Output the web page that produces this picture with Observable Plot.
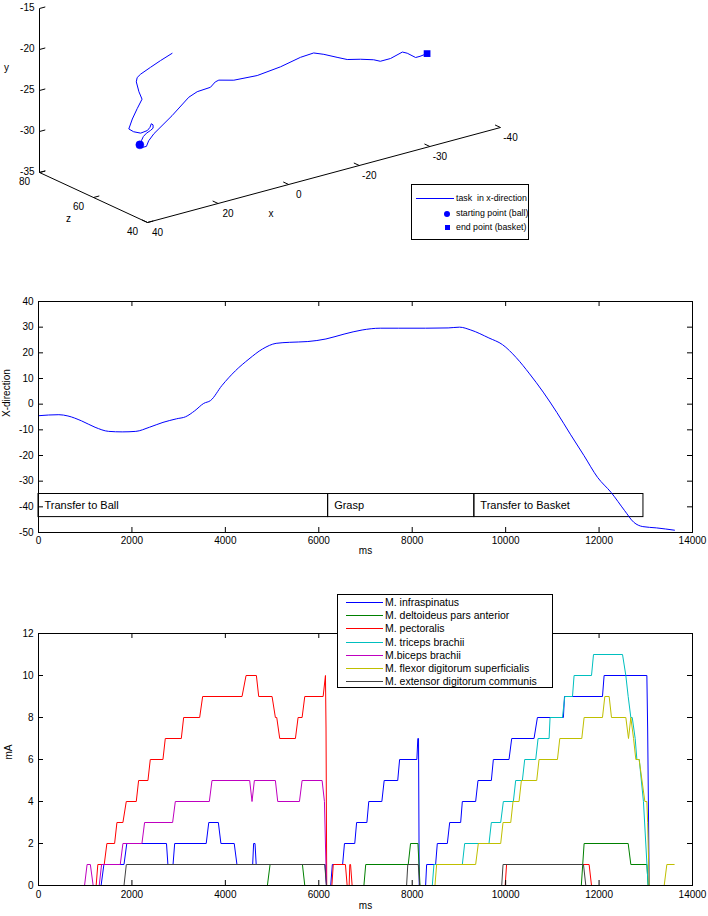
<!DOCTYPE html>
<html>
<head>
<meta charset="utf-8">
<script src="https://cdn.jsdelivr.net/npm/d3@7"></script>
<script src="https://cdn.jsdelivr.net/npm/@observablehq/plot@0.6"></script>
<style>
html,body{margin:0;padding:0;background:#fff;}
#wrap{position:relative;width:708px;height:916px;overflow:hidden;background:#fff;font-family:"Liberation Sans",Arial,sans-serif;color:#000;}
.panel{position:absolute;left:0;}
.legend{position:absolute;background:#fff;border:1px solid #000;box-sizing:border-box;}
.legend .row{position:absolute;left:0;right:0;height:14px;}
.legend .sample{position:absolute;top:7px;height:1px;}
.legend .label{position:absolute;top:0;line-height:14px;white-space:pre;}
.legend .mk{position:absolute;}
</style>
</head>
<body>
<div id="wrap">
  <div id="p1" class="panel" style="top:0"></div>
  <div id="p2" class="panel" style="top:262px"></div>
  <div id="p3" class="panel" style="top:575px"></div>
  <div id="leg1" class="legend" style="left:411px;top:184px;width:118px;height:56px;font-size:8.8px"></div>
  <div id="leg3" class="legend" style="left:337px;top:594px;width:216px;height:94px;font-size:10.5px"></div>
</div>
<script>
// ================= Panel 1: 3-D trajectory =================
const trajX = [22.2,24.8,27.1,29.3,30.1,30.3,29.7,29.0,30.1,31.2,32.0,30.9,29.3,27.8,27.2,26.9,26.5,26.5,27.1,28.0,28.7,29.1,29.3,28.9,28.0,27.5,26.3,22.2,18.4,16.5,13.5,12.4,11.6,8.2,2.9,-2.4,-6.9,-9.9,-12.2,-15.2,-17.5,-20.5,-23.5,-25.0,-27.3,-30.0,-31.1,-33.0,-34.0,-35.6];
const trajY = [-20.0,-20.5,-21.0,-21.5,-21.8,-22.3,-23.6,-24.6,-25.6,-26.7,-27.8,-28.3,-28.7,-28.6,-28.3,-27.9,-28.1,-28.5,-28.7,-28.9,-29.2,-29.6,-30.1,-30.5,-30.5,-29.9,-29.2,-27.6,-25.9,-25.5,-25.4,-24.9,-24.8,-25.3,-25.5,-25.2,-24.7,-24.6,-25.1,-25.9,-26.5,-26.9,-27.4,-27.8,-27.8,-27.4,-27.7,-28.5,-28.5,-28.4];
const trajZ = 60;
const ballXYZ = [29.5, -30.1, 60];
const basketXYZ = [-35.6, -28.4, 60];
const xLimits3d = [40, -40];
const yLimits3d = [-35, -15];
const zLimits3d = [80, 40];
const xTickLabels3d = ["40","20","0","-20","-30","-40"];
const yTicks3d = [-35,-30,-25,-20,-15];
const zTicks3d = [80,60,40];
const legend1Labels = ["task  in x-direction","starting point (ball)","end point (basket)"];

// ================= Panel 2: X-direction over time =================
const timeMs = [0,436,630,920,1211,1502,1792,2083,2374,2665,2955,3149,3343,3537,3682,3924,4215,4506,4796,5087,5378,5765,6153,6541,6928,7316,7703,8285,8769,9012,9254,9641,9932,10223,10513,10804,11095,11385,11676,11967,12258,12548,12742,12936,13227,13614];
const xDirection = [-4.5,-4.1,-4.6,-6.5,-9.0,-10.6,-10.8,-10.6,-9.0,-7.1,-5.7,-4.9,-2.6,0.3,1.4,7.2,13.0,17.6,21.5,23.7,24.1,24.4,25.4,27.3,28.9,29.6,29.6,29.6,29.7,30.0,28.9,25.8,23.2,18.2,11.8,4.7,-3.2,-11.7,-20.0,-28.5,-34.4,-41.5,-46.0,-47.7,-48.2,-49.1];
const phaseNames = ["Transfer to Ball","Grasp","Transfer to Basket"];
const phaseStartMs = [0, 6200, 9330];
const phaseEndMs = [6200, 9330, 12950];
const phaseLow = -44, phaseHigh = -35;
const msTicks = [0,2000,4000,6000,8000,10000,12000,14000];
const xDirTicks = [-50,-40,-30,-20,-10,0,10,20,30,40];

// ================= Panel 3: stimulation currents =================
const muscleNames = ["M. infraspinatus","M. deltoideus pars anterior","M. pectoralis","M. triceps brachii","M.biceps brachii","M. flexor digitorum superficialis","M. extensor digitorum communis"];
const muscleColors = ["#0000ff","#008000","#ff0000","#00bfbf","#bf00bf","#bfbf00","#404040"];
const infraspinatusT = [0,1340,1400,1830,1890,2740,2770,2880,2915,3590,3645,3850,3905,4190,4248,4585,4605,4635,4660,6135,6165,6255,6290,6510,6550,6770,6810,7030,7070,7350,7400,7690,7730,8100,8120,8135,8150,8287,8309,8501,8537,8752,8802,9037,9073,9358,9408,9694,9737,10072,10130,10608,10680,11236,11260,12073,12108,13023,13040,13073,13600];
const infraspinatusV = [0,0,1,1,2,2,1,1,2,2,3,3,2,2,1,1,2,2,1,1,0,0,1,1,2,2,3,3,4,4,5,5,6,6,7,7,0,0,1,1,2,2,3,3,4,4,5,5,6,6,7,7,8,8,9,9,10,10,7.5,0,0];
const deltoideusT = [0,4900,4957,5650,5700,6966,7005,7915,7964,8123,8166,11620,11680,12623,12680,13023,13051,13600];
const deltoideusV = [0,0,1,1,0,0,1,1,2,2,0,0,2,2,1,1,0,0];
const pectoralisT = [0,1234,1270,1407,1464,1629,1679,1807,1879,2093,2143,2343,2393,2664,2714,3057,3107,3450,3514,4357,4443,4664,4714,5000,5071,5100,5164,5500,5557,5643,5700,6093,6143,6155,6170,6280,6310,6570,6607,6650,6664,6680,6714,9990,10020,11787,11838,13600];
const pectoralisV = [0,0,1,1,2,2,3,3,4,4,5,5,6,6,7,7,8,8,9,9,10,10,9,9,8,8,7,7,8,8,9,9,10,7.5,0,0,1,1,0,0,1,1,0,0,1,1,0,0];
const tricepsT = [0,8430,8465,9073,9123,9644,9694,9894,9951,10165,10215,10358,10408,10644,10694,10930,10951,11216,11266,11431,11465,11838,11881,12502,12573,12623,12680,12710,12773,12809,12860,12950,13050,13600];
const tricepsV = [0,0,1,1,2,2,3,3,4,4,5,5,6,6,7,7,8,8,9,9,10,10,11,11,10,9,8,8,7,6,6,4,0,0];
const bicepsT = [0,986,1040,1110,1170,1300,1350,1750,1807,2214,2271,2871,2929,3657,3714,4521,4571,4621,5071,5121,5586,5643,6071,6121,6164,13600];
const bicepsV = [0,0,1,1,0,0,1,1,2,2,3,3,4,4,5,5,4,5,5,4,4,5,5,4,0,0];
const flexorT = [0,8487,8523,9358,9415,9894,9944,10109,10158,10287,10337,10665,10715,11109,11159,11630,11680,12073,12123,12216,12266,12573,12630,12680,12738,12787,12858,12980,13023,13040,13073,13394,13451,13608];
const flexorV = [0,0,1,1,2,2,3,3,4,4,5,5,6,6,7,7,8,8,9,9,8,8,7,8,7,6,6,4,4,3,0,0,1,1];
const extensorT = [0,1830,1880,6128,6163,7880,7905,8130,8160,9916,9944,11666,11716,13600];
const extensorV = [0,0,1,1,0,0,1,1,0,0,1,1,0,0];
const mATicks = [0,2,4,6,8,10,12];

// ================= common =================
const baseStyle = {fontFamily: '"Liberation Sans", Arial, sans-serif', fontSize: "10px", color: "#000", background: "transparent", overflow: "visible"};
const fmt = d => String(d);

// ---------- Panel 1 ----------
const view = {origin: [39, 172], ex: [353, -95], ey: [0, -164], ez: [108, 50]};
function proj(x, y, z) {
  const nx = (x - xLimits3d[0]) / (xLimits3d[1] - xLimits3d[0]);
  const ny = (y - yLimits3d[0]) / (yLimits3d[1] - yLimits3d[0]);
  const nz = (z - zLimits3d[0]) / (zLimits3d[1] - zLimits3d[0]);
  return {
    u: view.origin[0] + nx * view.ex[0] + ny * view.ey[0] + nz * view.ez[0],
    v: view.origin[1] + nx * view.ex[1] + ny * view.ey[1] + nz * view.ez[1]
  };
}
const unit = w => { const l = Math.hypot(w[0], w[1]); return [w[0] / l, w[1] / l]; };
const tickLen3d = 6;
const dirAlongX = unit(view.ex);
const dirBack = unit([-view.ez[0], -view.ez[1]]);
const [X0, X1] = xLimits3d, [Y0, Y1] = yLimits3d, [Z0, Z1] = zLimits3d;

const seg = (a, b) => ({u1: a.u, v1: a.v, u2: b.u, v2: b.v});
const axisSegs = [
  seg(proj(X0, Y0, Z0), proj(X0, Y1, Z0)),
  seg(proj(X0, Y0, Z0), proj(X0, Y0, Z1)),
  seg(proj(X0, Y0, Z1), proj(X1, Y0, Z1))
];
const yTickPts = yTicks3d.map(y => ({...proj(X0, y, Z0), label: fmt(y)}));
const zTickPts = zTicks3d.map(z => ({...proj(X0, Y0, z), label: fmt(z)}));
const xTickPts = xTickLabels3d.map((lab, i) => ({...proj(X0 + (X1 - X0) * i / (xTickLabels3d.length - 1), Y0, Z1), label: lab}));
const tickSegs = [
  ...yTickPts.map(p => ({u1: p.u, v1: p.v, u2: p.u + dirAlongX[0] * tickLen3d, v2: p.v + dirAlongX[1] * tickLen3d})),
  ...zTickPts.map(p => ({u1: p.u, v1: p.v, u2: p.u + dirAlongX[0] * tickLen3d, v2: p.v + dirAlongX[1] * tickLen3d})),
  ...xTickPts.map(p => ({u1: p.u, v1: p.v, u2: p.u + dirBack[0] * tickLen3d, v2: p.v + dirBack[1] * tickLen3d}))
];
const yTitle = {...proj(X0, Y0 + 0.64 * (Y1 - Y0), Z0), label: "y"};
const zTitle = {...proj(X0, Y0, (Z0 + Z1) / 2), label: "z"};
const xTitle = {...proj(X0 + 0.35 * (X1 - X0), Y0, Z1), label: "x"};
const traj = trajX.map((x, i) => proj(x, trajY[i], trajZ));
const ball = proj(...ballXYZ);
const basket = proj(...basketXYZ);

const p1 = Plot.plot({
  width: 708, height: 250, margin: 0,
  x: {domain: [0, 708], range: [0, 708], axis: null},
  y: {domain: [0, 250], range: [0, 250], axis: null},
  style: baseStyle,
  marks: [
    Plot.link(axisSegs, {x1: "u1", y1: "v1", x2: "u2", y2: "v2", stroke: "#000", strokeWidth: 1}),
    Plot.link(tickSegs, {x1: "u1", y1: "v1", x2: "u2", y2: "v2", stroke: "#000", strokeWidth: 1}),
    Plot.text(yTickPts, {x: "u", y: "v", text: "label", textAnchor: "end", dx: -5, dy: -1}),
    Plot.text(zTickPts, {x: "u", y: "v", text: "label", dx: -15, dy: 9.5}),
    Plot.text(xTickPts, {x: "u", y: "v", text: "label", dx: 10, dy: 10}),
    Plot.text([yTitle], {x: "u", y: "v", text: "label", dx: -33}),
    Plot.text([zTitle], {x: "u", y: "v", text: "label", dx: -25, dy: 21}),
    Plot.text([xTitle], {x: "u", y: "v", text: "label", dy: 24.5}),
    Plot.line(traj, {x: "u", y: "v", stroke: "#0000ff", strokeWidth: 1}),
    Plot.dot([ball], {x: "u", y: "v", r: 4, fill: "#0000ff", stroke: "#0000ff", strokeWidth: 0.5}),
    Plot.dot([basket], {x: "u", y: "v", r: 3.8, symbol: "square", fill: "#0000ff", stroke: "none"})
  ]
});
document.getElementById("p1").appendChild(p1);

// ---------- Panel 2 ----------
const tickPx = 5;
const m2 = {w: 708, h: 300, top: 39, bottom: 30, left: 38, right: 16};
const msDomain = [msTicks[0], msTicks[msTicks.length - 1]];
const xdDomain = [xDirTicks[0], xDirTicks[xDirTicks.length - 1]];
const in2H = m2.h - m2.top - m2.bottom, in2W = m2.w - m2.left - m2.right;
const tY2 = tickPx * (xdDomain[1] - xdDomain[0]) / in2H;
const tX2 = tickPx * (msDomain[1] - msDomain[0]) / in2W;
const xdData = timeMs.map((t, i) => ({t, v: xDirection[i]}));
const phases = phaseNames.map((name, i) => ({name, start: phaseStartMs[i], end: phaseEndMs[i], lo: phaseLow, hi: phaseHigh, mid: (phaseLow + phaseHigh) / 2}));

const p2 = Plot.plot({
  width: m2.w, height: m2.h, marginTop: m2.top, marginBottom: m2.bottom, marginLeft: m2.left, marginRight: m2.right,
  x: {domain: msDomain}, y: {domain: xdDomain},
  style: baseStyle,
  marks: [
    Plot.rect(phases, {x1: "start", x2: "end", y1: "lo", y2: "hi", fill: "none", stroke: "#000", strokeWidth: 1}),
    Plot.text(phases, {x: "start", y: "mid", text: "name", textAnchor: "start", dx: 6, fontSize: 11}),
    Plot.line(xdData, {x: "t", y: "v", stroke: "#0000ff", strokeWidth: 1, curve: "monotone-x"}),
    Plot.frame({stroke: "#000"}),
    Plot.ruleX(msTicks, {x: d => d, y1: xdDomain[0], y2: xdDomain[0] + tY2, stroke: "#000"}),
    Plot.ruleX(msTicks, {x: d => d, y1: xdDomain[1] - tY2, y2: xdDomain[1], stroke: "#000"}),
    Plot.ruleY(xDirTicks, {y: d => d, x1: msDomain[0], x2: msDomain[0] + tX2, stroke: "#000"}),
    Plot.ruleY(xDirTicks, {y: d => d, x1: msDomain[1] - tX2, x2: msDomain[1], stroke: "#000"}),
    Plot.axisX({ticks: msTicks, tickSize: 0, tickPadding: 4, tickFormat: fmt, label: null}),
    Plot.axisY({ticks: xDirTicks, tickSize: 0, tickPadding: 5, tickFormat: fmt, label: null}),
    Plot.text(["ms"], {frameAnchor: "bottom", dy: 21}),
    Plot.text(["X-direction"], {frameAnchor: "left", rotate: -90, dx: -32})
  ]
});
document.getElementById("p2").appendChild(p2);

// ---------- Panel 3 ----------
const m3 = {w: 708, h: 341, top: 58, bottom: 31, left: 38, right: 16};
const mADomain = [mATicks[0], mATicks[mATicks.length - 1]];
const in3H = m3.h - m3.top - m3.bottom, in3W = m3.w - m3.left - m3.right;
const tY3 = tickPx * (mADomain[1] - mADomain[0]) / in3H;
const tX3 = tickPx * (msDomain[1] - msDomain[0]) / in3W;
const seriesT = [infraspinatusT, deltoideusT, pectoralisT, tricepsT, bicepsT, flexorT, extensorT];
const seriesV = [infraspinatusV, deltoideusV, pectoralisV, tricepsV, bicepsV, flexorV, extensorV];
const muscles = muscleNames.map((name, k) => ({name, color: muscleColors[k], pts: seriesT[k].map((t, i) => ({t, v: seriesV[k][i]}))}));

const p3 = Plot.plot({
  width: m3.w, height: m3.h, marginTop: m3.top, marginBottom: m3.bottom, marginLeft: m3.left, marginRight: m3.right,
  x: {domain: msDomain}, y: {domain: mADomain},
  style: baseStyle,
  marks: [
    ...muscles.map(m => Plot.line(m.pts, {x: "t", y: "v", stroke: m.color, strokeWidth: 1})),
    Plot.frame({stroke: "#000"}),
    Plot.ruleX(msTicks, {x: d => d, y1: mADomain[0], y2: mADomain[0] + tY3, stroke: "#000"}),
    Plot.ruleX(msTicks, {x: d => d, y1: mADomain[1] - tY3, y2: mADomain[1], stroke: "#000"}),
    Plot.ruleY(mATicks, {y: d => d, x1: msDomain[0], x2: msDomain[0] + tX3, stroke: "#000"}),
    Plot.ruleY(mATicks, {y: d => d, x1: msDomain[1] - tX3, x2: msDomain[1], stroke: "#000"}),
    Plot.axisX({ticks: msTicks, tickSize: 0, tickPadding: 5, tickFormat: fmt, label: null}),
    Plot.axisY({ticks: mATicks, tickSize: 0, tickPadding: 5, tickFormat: fmt, label: null}),
    Plot.text(["ms"], {frameAnchor: "bottom", dy: 23}),
    Plot.text(["mA"], {frameAnchor: "left", rotate: -90, dx: -30})
  ]
});
document.getElementById("p3").appendChild(p3);

// ---------- Legends ----------
function addRow(box, top, color, label, opts) {
  const row = document.createElement("div");
  row.className = "row"; row.style.top = top + "px";
  if (opts.line) {
    const s = document.createElement("div");
    s.className = "sample"; s.style.left = opts.lineLeft + "px"; s.style.width = opts.lineWidth + "px"; s.style.background = color;
    row.appendChild(s);
  }
  if (opts.marker) {
    const mk = document.createElement("div");
    mk.className = "mk";
    const sz = opts.marker === "circle" ? 6 : 5;
    mk.style.width = sz + "px"; mk.style.height = sz + "px"; mk.style.background = color;
    mk.style.left = (opts.markerCenter - sz / 2) + "px"; mk.style.top = (7.5 - sz / 2) + "px";
    if (opts.marker === "circle") mk.style.borderRadius = "50%";
    row.appendChild(mk);
  }
  const t = document.createElement("div");
  t.className = "label"; t.style.left = opts.textLeft + "px"; t.textContent = label;
  row.appendChild(t);
  box.appendChild(row);
}
const leg1 = document.getElementById("leg1");
const leg1Kinds = [{line: true}, {marker: "circle"}, {marker: "square"}];
legend1Labels.forEach((lab, i) => addRow(leg1, Math.round(6 + i * 14.5), "#0000ff", lab, {...leg1Kinds[i], lineLeft: 4, lineWidth: 38, markerCenter: 35, textLeft: 44}));
const leg3 = document.getElementById("leg3");
muscles.forEach((m, i) => addRow(leg3, Math.round(i * 13.2), m.color, m.name, {line: true, lineLeft: 8, lineWidth: 37, textLeft: 47}));
</script>
</body>
</html>
